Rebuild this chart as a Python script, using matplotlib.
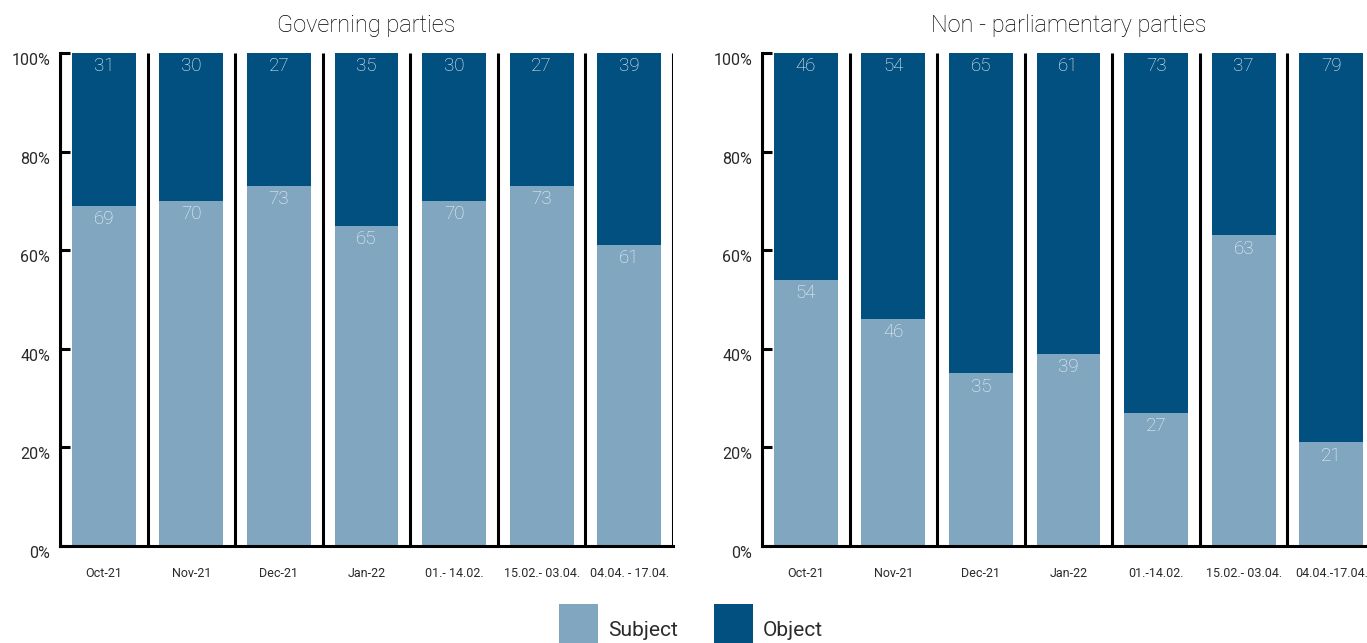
import matplotlib
matplotlib.use("Agg")
import matplotlib.pyplot as plt
from matplotlib.patches import Patch
import numpy as np

# ---- data ----
cats_gov = ["Oct-21", "Nov-21", "Dec-21", "Jan-22", "01.- 14.02.", "15.02.- 03.04.", "04.04. - 17.04."]
cats_non = ["Oct-21", "Nov-21", "Dec-21", "Jan-22", "01.-14.02.", "15.02.- 03.04.", "04.04.-17.04."]
gov_subject = [69, 70, 73, 65, 70, 73, 61]
gov_object = [31, 30, 27, 35, 30, 27, 39]
non_subject = [54, 46, 35, 39, 27, 63, 21]
non_object = [46, 54, 65, 61, 73, 37, 79]
yticks = [0, 20, 40, 60, 80, 100]
ytick_labels = ["0%", "20%", "40%", "60%", "80%", "100%"]
titles = ["Governing parties", "Non - parliamentary parties"]
series_names = ["Subject", "Object"]

C_SUB = "#80A6C0"
C_OBJ = "#02507F"
TXT = "#2a2a2a"
LBL = "#F2F6FA"
FONT = ["Roboto", "DejaVu Sans"]

W, H = 1367, 643
fig = plt.figure(figsize=(W / 100, H / 100), dpi=100)

def px_axes(x0, x1, ytop, ybot):
    return fig.add_axes([x0 / W, 1 - ybot / H, (x1 - x0) / W, (ybot - ytop) / H])

axes = [px_axes(60, 673, 53, 546), px_axes(762, 1375, 53, 546)]
datasets = [(cats_gov, gov_subject, gov_object), (cats_non, non_subject, non_object)]

for ax, (cats, sub, obj), title in zip(axes, datasets, titles):
    n = len(cats)
    x = np.arange(n)
    ax.bar(x, sub, width=0.73, color=C_SUB, zorder=2)
    ax.bar(x, obj, width=0.73, bottom=sub, color=C_OBJ, zorder=2)
    ax.vlines(np.arange(n + 1) - 0.5, 0, 100, colors="black", linewidth=2.2, zorder=3)
    ax.set_xlim(-0.5, n - 0.5)
    ax.set_ylim(0, 100)
    for xi, s, o in zip(x, sub, obj):
        ax.annotate(str(s), (xi, s), xytext=(0, -3), textcoords="offset points",
                    ha="center", va="top", color=LBL, fontsize=13.5,
                    family=FONT, fontweight="light", zorder=4)
        ax.annotate(str(o), (xi, 100), xytext=(0, -3), textcoords="offset points",
                    ha="center", va="top", color=LBL, fontsize=13.5,
                    family=FONT, fontweight="light", zorder=4)
    for s in ["top", "right"]:
        ax.spines[s].set_visible(False)
    for s in ["left", "bottom"]:
        ax.spines[s].set_linewidth(2.2)
        ax.spines[s].set_color("black")
        ax.spines[s].set_zorder(5)
    ax.set_yticks(yticks)
    ax.set_yticklabels(ytick_labels, family=FONT, fontsize=11.5, color=TXT, va="top")
    ax.tick_params(axis="y", direction="in", length=7, width=2.2, pad=7)
    ax.set_xticks(x)
    ax.set_xticklabels(cats, family=FONT, fontsize=9, color=TXT)
    ax.tick_params(axis="x", length=0, pad=15)
    ax.set_title(title, fontsize=17, family=FONT, fontweight="light", color="#000000", pad=15)

handles = [Patch(facecolor=C_SUB), Patch(facecolor=C_OBJ)]
fig.legend(handles, series_names, loc="center", bbox_to_anchor=(691 / W, 1 - 630 / H), ncol=2,
           frameon=False, handlelength=1.85, handleheight=3.5, columnspacing=1.75,
           handletextpad=0.48, borderpad=0.0, prop={"family": FONT, "size": 15})
for t in fig.legends[0].get_texts():
    t.set_color(TXT)

fig.savefig("out.png", dpi=100)
